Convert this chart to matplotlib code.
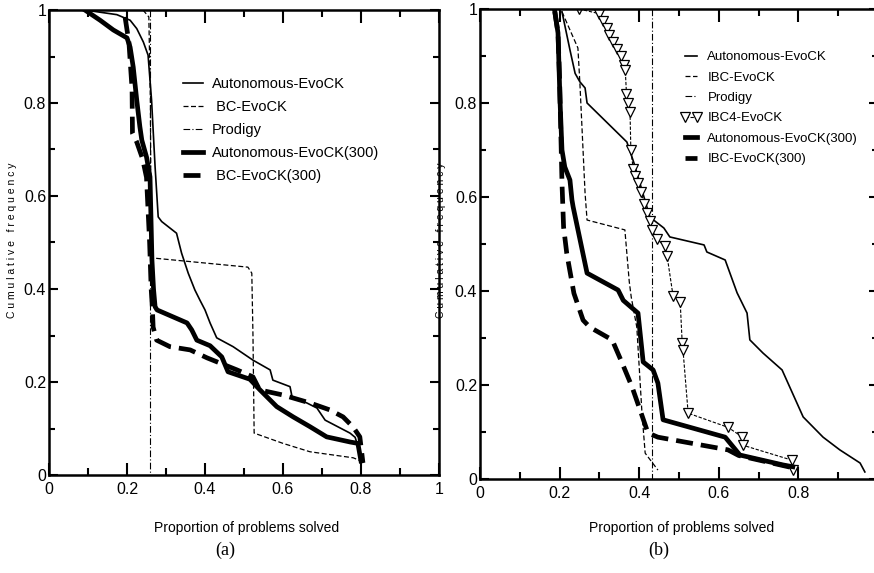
import matplotlib
matplotlib.use("Agg")
import matplotlib.pyplot as plt
from matplotlib.ticker import MultipleLocator

# ---- panel (a) data ----
a_auto_x = [0.092, 0.174, 0.208, 0.225, 0.242, 0.254, 0.263, 0.272, 0.28, 0.289, 0.327, 0.340,
            0.357, 0.374, 0.387, 0.40, 0.413, 0.43, 0.472, 0.523, 0.567, 0.574, 0.618, 0.623,
            0.661, 0.687, 0.708, 0.772, 0.785, 0.80]
a_auto_y = [1.0, 0.99, 0.978, 0.96, 0.931, 0.903, 0.806, 0.663, 0.555, 0.545, 0.520, 0.477,
            0.434, 0.398, 0.376, 0.355, 0.327, 0.295, 0.276, 0.247, 0.226, 0.204, 0.190, 0.169,
            0.155, 0.144, 0.118, 0.090, 0.081, 0.04]

a_bc_x = [0.241, 0.256, 0.26, 0.262, 0.51, 0.52, 0.523, 0.526, 0.533, 0.60, 0.669, 0.78, 0.80]
a_bc_y = [1.0, 0.985, 0.80, 0.467, 0.447, 0.434, 0.30, 0.09, 0.088, 0.068, 0.05, 0.037, 0.03]

a_prod_x = [0.259, 0.259]
a_prod_y = [1.0, 0.0]

a_auto300_x = [0.092, 0.131, 0.165, 0.20, 0.208, 0.216, 0.225, 0.233, 0.238, 0.25, 0.259, 0.264,
               0.268, 0.272, 0.277, 0.354, 0.366, 0.379, 0.413, 0.443, 0.459, 0.515, 0.541,
               0.584, 0.626, 0.669, 0.712, 0.772, 0.792, 0.80]
a_auto300_y = [1.0, 0.978, 0.957, 0.94, 0.92, 0.877, 0.806, 0.749, 0.72, 0.684, 0.641, 0.462,
               0.40, 0.362, 0.355, 0.327, 0.312, 0.29, 0.278, 0.254, 0.222, 0.206, 0.183,
               0.147, 0.125, 0.104, 0.082, 0.071, 0.068, 0.03]

a_bc300_x = [0.195, 0.205, 0.213, 0.214, 0.225, 0.24, 0.25, 0.258, 0.262, 0.265, 0.267, 0.276,
             0.31, 0.362, 0.405, 0.482, 0.523, 0.54, 0.60, 0.669, 0.72, 0.754, 0.78, 0.797, 0.805]
a_bc300_y = [0.985, 0.93, 0.83, 0.735, 0.716, 0.68, 0.64, 0.50, 0.40, 0.36, 0.318, 0.29,
             0.276, 0.269, 0.252, 0.226, 0.211, 0.183, 0.172, 0.155, 0.14, 0.125, 0.103, 0.082, 0.026]

# ---- panel (b) data ----
b_auto_x = [0.206, 0.226, 0.239, 0.251, 0.264, 0.269, 0.369, 0.387, 0.412, 0.427, 0.462, 0.477,
            0.563, 0.57, 0.616, 0.646, 0.671, 0.678, 0.711, 0.759, 0.812, 0.862, 0.904, 0.955, 0.967]
b_auto_y = [0.994, 0.913, 0.863, 0.845, 0.832, 0.80, 0.717, 0.672, 0.60, 0.557, 0.534, 0.515,
            0.498, 0.483, 0.466, 0.396, 0.353, 0.296, 0.268, 0.232, 0.132, 0.089, 0.062, 0.034, 0.015]

b_ibc_x = [0.206, 0.246, 0.251, 0.264, 0.269, 0.364, 0.375, 0.38, 0.394, 0.407, 0.415, 0.447]
b_ibc_y = [0.994, 0.917, 0.842, 0.608, 0.551, 0.53, 0.42, 0.387, 0.323, 0.14, 0.055, 0.019]

b_prod_x = [0.432, 0.432]
b_prod_y = [1.0, 0.0]

b_ibc4_x = [0.249, 0.30, 0.31, 0.318, 0.325, 0.335, 0.345, 0.355, 0.362, 0.365, 0.368, 0.372,
            0.377, 0.379, 0.385, 0.39, 0.397, 0.405, 0.412, 0.42, 0.427, 0.432, 0.445, 0.465,
            0.47, 0.485, 0.503, 0.508, 0.51, 0.523, 0.623, 0.658, 0.66, 0.784, 0.786]
b_ibc4_y = [1.0, 0.99, 0.975, 0.96, 0.945, 0.93, 0.915, 0.90, 0.88, 0.87, 0.82, 0.80,
            0.78, 0.70, 0.66, 0.645, 0.63, 0.61, 0.585, 0.565, 0.55, 0.53, 0.51, 0.495,
            0.475, 0.39, 0.377, 0.29, 0.275, 0.14, 0.11, 0.09, 0.072, 0.04, 0.02]

b_auto300_x = [0.188, 0.196, 0.201, 0.206, 0.213, 0.226, 0.231, 0.234, 0.269, 0.347, 0.36, 0.397,
               0.41, 0.435, 0.447, 0.46, 0.616, 0.653, 0.761, 0.786]
b_auto300_y = [0.994, 0.949, 0.806, 0.70, 0.664, 0.636, 0.594, 0.579, 0.438, 0.402, 0.38, 0.353,
               0.249, 0.232, 0.204, 0.126, 0.089, 0.051, 0.03, 0.026]

b_bc300_x = [0.188, 0.196, 0.20, 0.206, 0.21, 0.218, 0.236, 0.259, 0.276, 0.332, 0.357, 0.382,
             0.405, 0.422, 0.447, 0.623, 0.65, 0.78]
b_bc300_y = [0.994, 0.949, 0.85, 0.63, 0.536, 0.48, 0.395, 0.338, 0.323, 0.296, 0.247, 0.196,
             0.14, 0.098, 0.089, 0.062, 0.05, 0.025]

plt.rcParams["font.family"] = ["Liberation Sans", "DejaVu Sans"]

THIN = 1.2
THICK = 3.4
DASH_THIN = (0, (4, 2))
DASH_THICK = (0, (3.6, 1.7))
DASHDOT = (0, (6, 2, 1, 2))


def tick_fmt(v, pos):
    if abs(v) < 1e-9:
        return "0"
    if abs(v - 1) < 1e-9:
        return "1"
    return f"{v:.1f}"


def style_axes(ax):
    ax.set_xlim(0, 1)
    ax.set_ylim(0, 1)
    ax.xaxis.set_major_locator(MultipleLocator(0.2))
    ax.xaxis.set_minor_locator(MultipleLocator(0.1))
    ax.yaxis.set_major_locator(MultipleLocator(0.2))
    ax.yaxis.set_minor_locator(MultipleLocator(0.1))
    ax.xaxis.set_major_formatter(tick_fmt)
    ax.yaxis.set_major_formatter(tick_fmt)
    ax.tick_params(which="both", direction="in", top=True, right=True, width=1.5,
                   labelsize=11.5, colors="black")
    ax.tick_params(axis="x", which="major", length=9, pad=5)
    ax.tick_params(axis="x", which="minor", length=5)
    ax.tick_params(axis="y", which="major", length=6.5, pad=2)
    ax.tick_params(axis="y", which="minor", length=4)
    for s in ax.spines.values():
        s.set_linewidth(1.8)
    ax.set_ylabel("C u m u l a t i v e   f r e q u e n c y", fontsize=7.5)
    ax.set_xlabel("Proportion of problems solved", fontsize=10)


fig = plt.figure(figsize=(8.74, 5.73), dpi=100)

# (a)
ax1 = fig.add_axes([49 / 874, 1 - 475 / 573, 390 / 874, 465 / 573])
ax1.plot(a_auto_x, a_auto_y, "-", color="black", lw=THIN, label="Autonomous-EvoCK")
ax1.plot(a_bc_x, a_bc_y, linestyle=DASH_THIN, color="black", lw=0.9, label=" BC-EvoCK")
ax1.plot(a_prod_x, a_prod_y, linestyle=DASHDOT, color="black", lw=0.8, label="Prodigy")
ax1.plot(a_auto300_x, a_auto300_y, "-", color="black", lw=THICK, label="Autonomous-EvoCK(300)")
ax1.plot(a_bc300_x, a_bc300_y, linestyle=DASH_THICK, color="black", lw=THICK, label=" BC-EvoCK(300)")
style_axes(ax1)
ax1.xaxis.set_label_coords((247 - 49) / 390, (475 - 521) / 465)
ax1.yaxis.set_label_coords((17 - 49) / 390, (475 - 240) / 465)
ax1.legend(loc="upper left", bbox_to_anchor=((183 - 49) / 390, (475 - 77) / 465),
           frameon=False, fontsize=10.5, handlelength=1.4, handletextpad=0.6,
           labelspacing=0.62, borderpad=0, borderaxespad=0)

# (b)
ax2 = fig.add_axes([480 / 874, 1 - 479 / 573, 398 / 874, 470 / 573])
ax2.plot(b_auto_x, b_auto_y, "-", color="black", lw=THIN, label="Autonomous-EvoCK")
ax2.plot(b_ibc_x, b_ibc_y, linestyle=DASH_THIN, color="black", lw=0.9, label="IBC-EvoCK")
ax2.plot(b_prod_x, b_prod_y, linestyle=DASHDOT, color="black", lw=0.8, label="Prodigy")
ax2.plot(b_ibc4_x, b_ibc4_y, linestyle=(0, (3, 1.5)), color="black", lw=0.8, marker="v",
         markersize=6.5, markerfacecolor="white", markeredgecolor="black", markeredgewidth=0.9,
         label="IBC4-EvoCK")
ax2.plot(b_auto300_x, b_auto300_y, "-", color="black", lw=THICK, label="Autonomous-EvoCK(300)")
ax2.plot(b_bc300_x, b_bc300_y, linestyle=DASH_THICK, color="black", lw=THICK, label="IBC-EvoCK(300)")
style_axes(ax2)
# the x=1 label of panel (b) falls outside the picture in the original
ax2.xaxis.set_major_formatter(lambda v, p: "" if abs(v - 1) < 1e-9 else tick_fmt(v, p))
ax2.xaxis.set_label_coords((682 - 480) / 398, (479 - 521) / 470)
ax2.yaxis.set_label_coords((446 - 480) / 398, (479 - 240) / 470)
ax2.legend(loc="upper left", bbox_to_anchor=((681 - 480) / 398, (479 - 51) / 470),
           frameon=False, fontsize=9.5, handlelength=1.5, handletextpad=0.5,
           labelspacing=0.62, borderpad=0, borderaxespad=0, numpoints=2)

fig.text(225 / 874, 1 - 550 / 573, "(a)", ha="center", va="center", fontsize=13,
         family=["Liberation Serif", "DejaVu Serif"])
fig.text(659 / 874, 1 - 550 / 573, "(b)", ha="center", va="center", fontsize=13,
         family=["Liberation Serif", "DejaVu Serif"])

fig.savefig("out.png", dpi=100)
